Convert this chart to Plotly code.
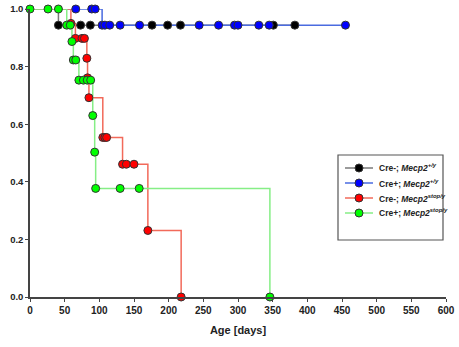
import plotly.graph_objects as go

# ---- data ----
x_ticks = [0, 50, 100, 150, 200, 250, 300, 350, 400, 450, 500, 550, 600]
y_ticks = [0.0, 0.2, 0.4, 0.6, 0.8, 1.0]

# Cre-; Mecp2 +/y
black_step_t = [0, 41, 382]
black_step_s = [1.0, 0.944, 0.944]
black_mark_t = [41, 73, 87, 176, 198.5, 217, 351, 382]
black_mark_s = [0.944, 0.944, 0.944, 0.944, 0.944, 0.944, 0.944, 0.944]

# Cre+; Mecp2 +/y
blue_step_t = [0, 104, 455]
blue_step_s = [1.0, 0.944, 0.944]
blue_mark_t = [66, 89, 94, 104, 108, 115, 130, 158, 244, 272, 295, 300, 330, 345, 455]
blue_mark_s = [1.0, 1.0, 1.0, 0.944, 0.944, 0.944, 0.944, 0.944, 0.944, 0.944, 0.944,
               0.944, 0.944, 0.944, 0.944]

# Cre-; Mecp2 stop/y
red_step_t = [0, 59, 65.5, 82, 83, 85, 105, 133.5, 170, 218]
red_step_s = [1.0, 0.95, 0.898, 0.829, 0.761, 0.692, 0.554, 0.461, 0.231, 0.0]
red_mark_t = [59, 65.5, 75, 78.5, 82, 83, 85, 105, 108, 110.5, 133.5, 139, 150, 170, 218]
red_mark_s = [0.95, 0.898, 0.898, 0.898, 0.829, 0.761, 0.692, 0.554, 0.554, 0.554,
              0.461, 0.461, 0.461, 0.231, 0.0]

# Cre+; Mecp2 stop/y
green_step_t = [0, 53, 60.5, 62.5, 70.5, 90.5, 93.3, 94.7, 346]
green_step_s = [1.0, 0.944, 0.887, 0.823, 0.753, 0.63, 0.503, 0.377, 0.0]
green_mark_t = [0, 26, 41, 53, 58, 60.5, 62.5, 66, 70.5, 77, 82.5, 87.5, 90.5, 93.3,
                94.7, 130, 157.5, 346]
green_mark_s = [1.0, 1.0, 1.0, 0.944, 0.944, 0.887, 0.823, 0.823, 0.753, 0.753, 0.753,
                0.753, 0.63, 0.503, 0.377, 0.377, 0.377, 0.0]

legend_labels = [
    "<b>Cre-; <i>Mecp2<sup>+/y</sup></i></b>",
    "<b>Cre+; <i>Mecp2<sup>+/y</sup></i></b>",
    "<b>Cre-; <i>Mecp2<sup>stop/y</sup></i></b>",
    "<b>Cre+; <i>Mecp2<sup>stop/y</sup></i></b>",
]

series = [
    (black_step_t, black_step_s, black_mark_t, black_mark_s, "#7a7a7a", "#000000"),
    (blue_step_t, blue_step_s, blue_mark_t, blue_mark_s, "#4a6be0", "#0000ff"),
    (red_step_t, red_step_s, red_mark_t, red_mark_s, "#f26a5a", "#ff0000"),
    (green_step_t, green_step_s, green_mark_t, green_mark_s, "#86ee86", "#00ff00"),
]

W, H = 459, 347
ML, MR, MT, MB = 30, 13, 9, 50
PW, PH = W - ML - MR, H - MT - MB


def px(xp):
    return (xp - ML) / PW


def py(yp):
    return (H - MB - yp) / PH


fig = go.Figure()
for st, ss, mt, ms, lc, mc in series:
    fig.add_trace(go.Scatter(x=st, y=ss, mode="lines", line=dict(color=lc, width=1.5, shape="hv"),
                             showlegend=False, hoverinfo="skip"))
for st, ss, mt, ms, lc, mc in series:
    fig.add_trace(go.Scatter(x=mt, y=ms, mode="markers", cliponaxis=False,
                             marker=dict(color=mc, size=8, line=dict(color="#333333", width=1)),
                             showlegend=False))

# legend box
fig.add_shape(type="rect", xref="paper", yref="paper", x0=px(338), x1=px(443), y0=py(240), y1=py(155),
              line=dict(color="#555555", width=1.2), fillcolor="rgba(0,0,0,0)")
row_y = [168, 183, 198, 213]
for lab, ry, (st, ss, mt, ms, lc, mc) in zip(legend_labels, row_y, series):
    fig.add_shape(type="line", xref="paper", yref="paper", x0=px(345), x1=px(373), y0=py(ry), y1=py(ry),
                  line=dict(color=lc, width=1.5))
    fig.add_shape(type="circle", xref="paper", yref="paper", x0=px(355), x1=px(363),
                  y0=py(ry + 4), y1=py(ry - 4), fillcolor=mc, line=dict(color="#333333", width=1))
    fig.add_annotation(xref="paper", yref="paper", x=px(377), y=py(ry), xanchor="left", yanchor="middle",
                       text=lab, showarrow=False, font=dict(size=8.5, color="#222222"))

fig.update_layout(
    width=W, height=H,
    margin=dict(l=ML, r=MR, t=MT, b=MB),
    paper_bgcolor="white", plot_bgcolor="white",
    font=dict(family="Liberation Sans, Arial, sans-serif", color="#222222"),
    showlegend=False,
)
fig.update_xaxes(range=[0, 600], tickvals=x_ticks, ticktext=[str(v) for v in x_ticks],
                 automargin=False, ticklabeloverflow="allow",
                 showgrid=False, zeroline=False, showline=True, linecolor="#444444", linewidth=1.5,
                 ticks="outside", ticklen=3, tickcolor="#444444",
                 tickfont=dict(size=10, weight="bold"),
                 title=dict(text="<b>Age [days]</b>", font=dict(size=11), standoff=12))
fig.update_yaxes(range=[0, 1.0], tickvals=y_ticks, ticktext=[f"{v:.1f}" for v in y_ticks],
                 automargin=False, ticklabeloverflow="allow",
                 showgrid=False, zeroline=False, showline=True, linecolor="#444444", linewidth=1.5,
                 ticks="outside", ticklen=3, tickcolor="#444444",
                 tickfont=dict(size=9.5, weight="bold"))

fig.write_html("out.html",
               config={"displayModeBar": False},
               post_script="document.body.style.margin='0';document.body.style.overflow='hidden';")
